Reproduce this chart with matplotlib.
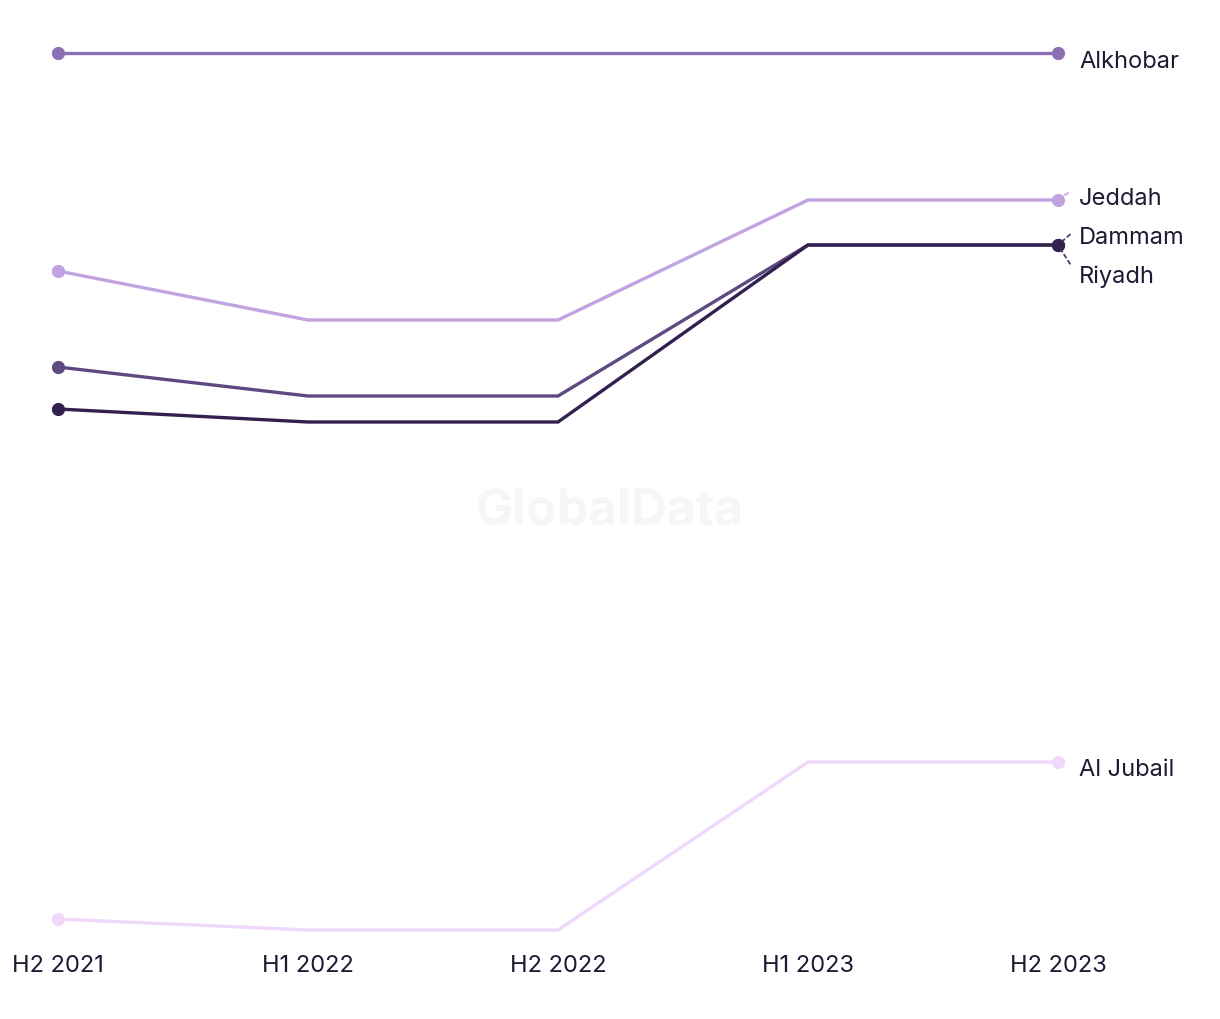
import matplotlib
matplotlib.use('Agg')
import matplotlib.pyplot as plt

plt.rcParams['font.family'] = ['Inter', 'DejaVu Sans']

# Periods and series values (arbitrary index units)
periods = ['H2 2021', 'H1 2022', 'H2 2022', 'H1 2023', 'H2 2023']
alkhobar = [94.7, 94.7, 94.7, 94.7, 94.7]
jeddah = [72.9, 68.0, 68.0, 80.0, 80.0]
riyadh = [63.3, 60.4, 60.4, 75.5, 75.5]
dammam = [59.1, 57.8, 57.8, 75.5, 75.5]
al_jubail = [8.1, 7.0, 7.0, 23.8, 23.8]

series = [
    ('Al Jubail', al_jubail, '#f0d8fb', 1),
    ('Jeddah', jeddah, '#c0a3e0', -8),
    ('Riyadh', riyadh, '#5e4a80', 25),
    ('Dammam', dammam, '#33204f', -14),
    ('Alkhobar', alkhobar, '#8b70b3', 2),
]

fig = plt.figure(figsize=(12.2, 10.2), dpi=100)
ax = fig.add_axes([58 / 1220, 89 / 1020, 1000 / 1220, 877 / 1020])
x = list(range(len(periods)))

for name, vals, color, dy in series:
    ax.plot(x, vals, '-o', color=color, lw=2.4, ms=8.5, markevery=[0, len(x) - 1],
            clip_on=False, solid_joinstyle='miter', zorder=3)
    ax.annotate(name, xy=(x[-1], vals[-1]), xytext=(21, -dy - 6), textcoords='offset pixels',
                ha='left', va='center', fontsize=17, color='#1f1a33')

# small dotted leaders for crowded labels
for name, vals, dy, color in [('Dammam', dammam, -14, '#4a3a6a'), ('Riyadh', riyadh, 25, '#4a3a6a')]:
    ax.annotate('', xy=(x[-1], vals[-1]), xytext=(12, -dy * 0.75), textcoords='offset pixels',
                arrowprops=dict(arrowstyle='-', ls=(0, (2, 2)), color=color, lw=1.3, shrinkA=0, shrinkB=4))
ax.annotate('', xy=(x[-1], jeddah[-1]), xytext=(10, 7), textcoords='offset pixels',
            arrowprops=dict(arrowstyle='-', ls=(0, (2, 2)), color='#c0a3e0', lw=1.3, shrinkA=0, shrinkB=5))

ax.set_xlim(0, len(x) - 1)
ax.set_ylim(7.0, 94.7)
ax.set_xticks(x)
ax.set_xticklabels(periods, fontsize=17, color='#1f1a33')
ax.tick_params(axis='x', length=0, pad=17)
ax.set_yticks([])
for s in ax.spines.values():
    s.set_visible(False)

fig.text(610 / 1220, 1 - 512 / 1020, 'GlobalData', ha='center', va='center',
         fontsize=36, fontweight='bold', color='#f6f6f6', zorder=0)

fig.savefig('out.png', dpi=100)
